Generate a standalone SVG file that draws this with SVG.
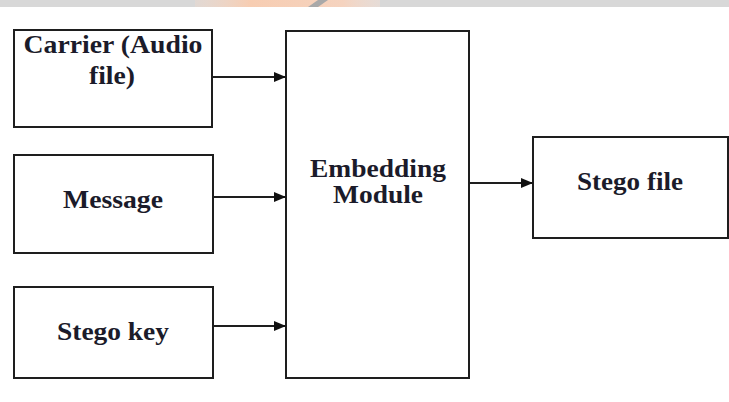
<svg xmlns="http://www.w3.org/2000/svg" width="729" height="402" viewBox="0 0 729 402">
<defs>
<style>
.box{fill:#fff;stroke:#1e1e1e;stroke-width:2}
.lbl{font-family:"Liberation Serif","Times New Roman",serif;font-weight:bold;font-size:25px;fill:#1b1b2a;text-anchor:middle}
.con{stroke:#1e1e1e;stroke-width:2;fill:none}
</style>
<marker id="ah" viewBox="0 0 12 10" refX="12" refY="5" markerWidth="12" markerHeight="10" markerUnits="userSpaceOnUse" orient="auto">
<path d="M0,0 L12,5 L0,10 Z" fill="#111"/>
</marker>
<linearGradient id="wm" x1="0" x2="1" y1="0" y2="0">
<stop offset="0" stop-color="#f6d9c8" stop-opacity="0.3"/>
<stop offset="0.3" stop-color="#f7cdb2"/>
<stop offset="0.8" stop-color="#f5d3bf"/>
<stop offset="1" stop-color="#f3e0d6" stop-opacity="0.5"/>
</linearGradient>
</defs>
<rect x="0" y="0" width="729" height="402" fill="#fff"/>
<rect x="0" y="0" width="729" height="7" fill="#d8d8d8"/>
<rect x="195" y="0" width="185" height="7" fill="url(#wm)"/>
<path d="M308,7 L318,0 L328,0 L318,7 Z" fill="#a9a9a9"/>
<g id="carrier">
<rect class="box" x="14" y="30" width="198" height="97"/>
<text class="lbl" x="113" y="53" textLength="179" lengthAdjust="spacingAndGlyphs">Carrier (Audio</text>
<text class="lbl" x="112" y="84" textLength="46" lengthAdjust="spacingAndGlyphs">file)</text>
</g>
<g id="message">
<rect class="box" x="14" y="155" width="199" height="98"/>
<text class="lbl" x="113" y="208" textLength="100" lengthAdjust="spacingAndGlyphs">Message</text>
</g>
<g id="stegokey">
<rect class="box" x="14" y="287" width="199" height="91"/>
<text class="lbl" x="113" y="340" textLength="112" lengthAdjust="spacingAndGlyphs">Stego key</text>
</g>
<g id="embedding">
<rect class="box" x="286" y="31" width="183" height="347"/>
<text class="lbl" x="378" y="177" textLength="136" lengthAdjust="spacingAndGlyphs">Embedding</text>
<text class="lbl" x="378" y="203" textLength="90" lengthAdjust="spacingAndGlyphs">Module</text>
</g>
<g id="stegofile">
<rect class="box" x="533" y="137" width="195" height="101"/>
<text class="lbl" x="630" y="190" textLength="106" lengthAdjust="spacingAndGlyphs">Stego file</text>
</g>
<g id="connectors">
<line class="con" x1="213" y1="77" x2="286" y2="77" marker-end="url(#ah)"/>
<line class="con" x1="213" y1="197" x2="286" y2="197" marker-end="url(#ah)"/>
<line class="con" x1="213" y1="326" x2="286" y2="326" marker-end="url(#ah)"/>
<line class="con" x1="470" y1="183" x2="533" y2="183" marker-end="url(#ah)"/>
</g>
</svg>
